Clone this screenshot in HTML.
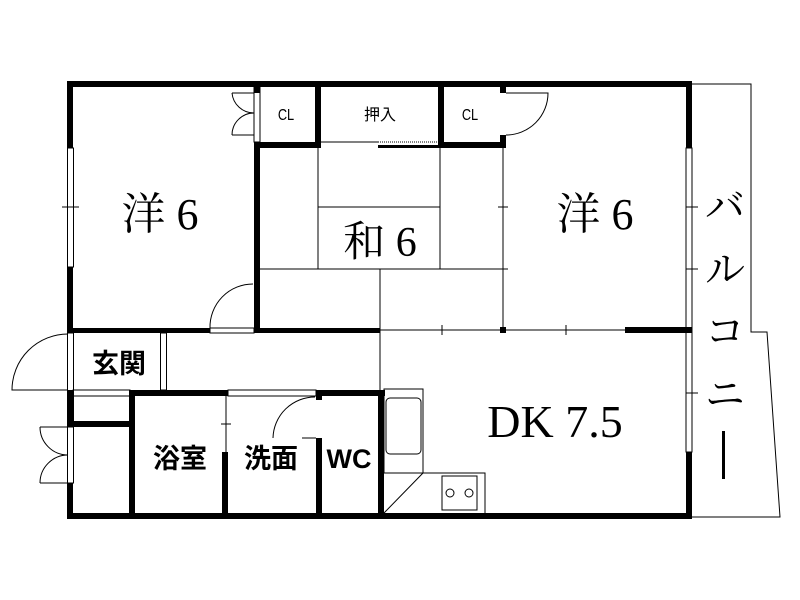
<!DOCTYPE html>
<html><head><meta charset="utf-8"><style>
html,body{margin:0;padding:0;background:#fff}
svg{display:block}
.s{font-family:"Liberation Serif","Noto Serif CJK SC",serif}
.b{font-family:"Liberation Sans","Noto Sans CJK JP",sans-serif;font-weight:bold}
.n{font-family:"Liberation Sans","Noto Sans CJK JP",sans-serif}
</style></head><body>
<svg width="800" height="600" viewBox="0 0 800 600" xmlns="http://www.w3.org/2000/svg">
<rect width="800" height="600" fill="#fff"/>
<g fill="none" stroke="#000" stroke-width="1">
<polyline points="692,84 751,84 751,332 767,332 780,517 692,517"/>
<line x1="318" y1="148" x2="318" y2="269"/>
<line x1="318" y1="207" x2="440" y2="207"/>
<line x1="440" y1="148" x2="440" y2="269"/>
<line x1="260" y1="269" x2="503" y2="269"/>
<line x1="380" y1="269" x2="380" y2="390"/>
<line x1="503" y1="148" x2="503" y2="330"/>
<line x1="380" y1="330" x2="625" y2="330"/>
<line x1="321" y1="142" x2="378" y2="142"/>
<line x1="378" y1="142" x2="440" y2="142" stroke-dasharray="1,1"/>
<line x1="498" y1="207" x2="508" y2="207"/><line x1="498" y1="269" x2="508" y2="269"/>
<line x1="442" y1="325" x2="442" y2="335"/><line x1="566" y1="325" x2="566" y2="335"/>
<line x1="62" y1="207" x2="79" y2="207"/>
<line x1="686" y1="207" x2="698" y2="207"/><line x1="686" y1="269" x2="698" y2="269"/><line x1="686" y1="393" x2="698" y2="393"/>
<line x1="221" y1="424" x2="231" y2="424"/>
<path d="M506,93 H548 A42,42 0 0 1 506,135"/>
<path d="M253,284 A43,43 0 0 0 210,328"/>
<path d="M68,334 A56,56 0 0 0 12,390 H68"/>
<path d="M315,397 A42,42 0 0 0 273,438"/>
<line x1="302" y1="438" x2="316" y2="438"/>
<line x1="226" y1="396" x2="226" y2="452"/>
<path d="M232,93 H254 M232,93 A22,22 0 0 0 254,113 M232,135 H254 M232,135 A22,22 0 0 1 254,113"/>
<path d="M40,427 H68 M40,427 A28,28 0 0 0 68,455 M40,483 H68 M40,483 A28,28 0 0 1 68,455"/>
<rect x="67.5" y="148" width="6" height="119"/>
<rect x="686" y="148" width="6" height="304"/>
<rect x="67.5" y="333" width="6" height="94"/>
<rect x="67.5" y="427" width="6" height="56"/>
<rect x="73" y="390" width="57" height="6"/>
<rect x="160.5" y="333" width="6" height="57"/>
<rect x="228" y="390" width="88" height="6"/>
<rect x="210" y="328" width="44" height="5"/>
<rect x="254" y="87" width="6" height="55"/>
<line x1="380" y1="330" x2="380" y2="390"/>
<rect x="384" y="389" width="39" height="84"/>
<rect x="386" y="398" width="35" height="56" rx="4"/>
<polyline points="423,473 485,473 485,519"/>
<line x1="423" y1="473" x2="384" y2="513"/>
<rect x="442" y="476" width="35" height="34"/>
<circle cx="450" cy="493" r="4"/><circle cx="469" cy="493" r="4"/>
</g>
<g fill="#000">
<rect x="67" y="81" width="625" height="6"/>
<rect x="67" y="81" width="6" height="67"/>
<rect x="67" y="267" width="6" height="66"/>
<rect x="67" y="483" width="6" height="36"/>
<rect x="67" y="513" width="625" height="6"/>
<rect x="686" y="81" width="6" height="67"/>
<rect x="686" y="452" width="6" height="67"/>
<rect x="254" y="142" width="6" height="191"/>
<rect x="254" y="81" width="6" height="12"/>
<rect x="315" y="81" width="6" height="67"/>
<rect x="254" y="142" width="67" height="6"/>
<rect x="378" y="145" width="62" height="3"/>
<rect x="438" y="81" width="6" height="67"/>
<rect x="438" y="142" width="68" height="6"/>
<rect x="500" y="81" width="6" height="12"/>
<rect x="500" y="135" width="6" height="13"/>
<rect x="67" y="328" width="143" height="5"/>
<rect x="254" y="328" width="126" height="5"/>
<rect x="625" y="327" width="67" height="6"/>
<rect x="500" y="327" width="6" height="6"/>
<rect x="130" y="390" width="98" height="6"/>
<rect x="316" y="390" width="69" height="6"/>
<rect x="67" y="390" width="6" height="37"/>
<rect x="73" y="421" width="62" height="6"/>
<rect x="129" y="390" width="6" height="129"/>
<rect x="222" y="452" width="6" height="67"/>
<rect x="316" y="396" width="6" height="4"/>
<rect x="316" y="438" width="6" height="81"/>
<rect x="378" y="390" width="6" height="129"/>
</g>
<g>
<text class="s" x="160" y="229" font-size="44" text-anchor="middle">洋 6</text>
<text class="s" x="380" y="256" font-size="42" text-anchor="middle">和 6</text>
<text class="s" x="595" y="229" font-size="44" text-anchor="middle">洋 6</text>
<text class="s" x="555" y="437" font-size="46" text-anchor="middle">DK 7.5</text>
<text class="n" x="286" y="120" font-size="16" text-anchor="middle" transform="translate(286,0) scale(0.8,1) translate(-286,0)">CL</text>
<text class="n" x="380" y="120" font-size="16" text-anchor="middle">押入</text>
<text class="n" x="470" y="120" font-size="16" text-anchor="middle" transform="translate(470,0) scale(0.8,1) translate(-470,0)">CL</text>
<text class="b" x="119" y="373" font-size="27" text-anchor="middle">玄関</text>
<text class="b" x="180" y="468" font-size="27" text-anchor="middle">浴室</text>
<text class="b" x="271" y="468" font-size="27" text-anchor="middle">洗面</text>
<text class="b" x="349" y="468" font-size="27" text-anchor="middle">WC</text>
<text class="s" x="725" y="220" font-size="40" text-anchor="middle">バ</text>
<text class="s" x="725" y="283" font-size="40" text-anchor="middle">ル</text>
<text class="s" x="725" y="345" font-size="40" text-anchor="middle">コ</text>
<text class="s" x="725" y="408" font-size="40" text-anchor="middle">ニ</text>
</g>
<rect x="722" y="431" width="3" height="48" fill="#000"/>
</svg>
</body></html>
